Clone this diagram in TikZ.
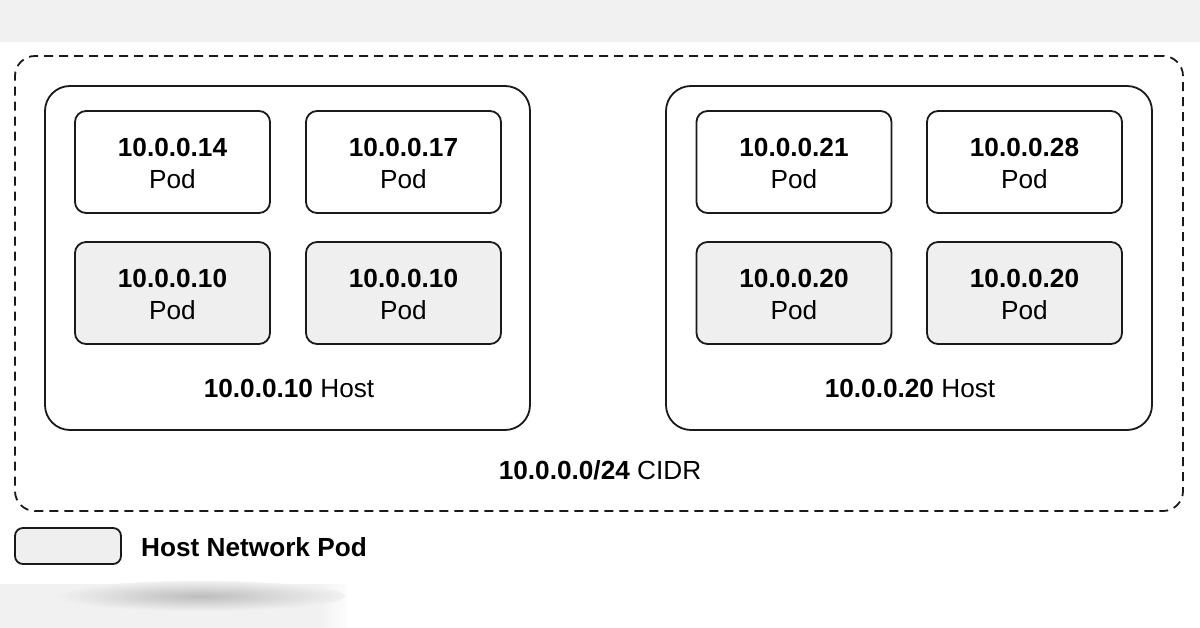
\documentclass[tikz,border=0pt]{standalone}
\usepackage{fontspec}
\setmainfont{Liberation Sans}
\definecolor{band}{HTML}{F1F1F1}
\definecolor{podfill}{HTML}{EFEFEF}
\definecolor{shade}{HTML}{BDBDBD}
\definecolor{edge}{HTML}{1A1A1A}
\begin{document}
\begin{tikzpicture}[x=1pt,y=-1pt,
  podtext/.style={inner sep=0pt, align=center, yshift=-1.5pt, font=\fontsize{26.2}{32}\selectfont},
  pod/.style={draw=edge, line width=1.8pt, rounded corners=11pt, minimum width=195pt, minimum height=102pt, inner sep=0pt, label={[podtext]center:#1}},
  hostpod/.style={pod=#1, fill=podfill},
  hostbox/.style={draw=edge, line width=1.8pt, rounded corners=25pt, minimum height=344pt, inner sep=0pt},
  cidrbox/.style={draw=edge, line width=1.8pt, dash pattern=on 9pt off 6pt, rounded corners=20pt, minimum width=1168pt, minimum height=455pt, inner sep=0pt},
  lbl/.style={inner sep=0pt, font=\fontsize{26.2}{30}\selectfont}]
\useasboundingbox (0,0) rectangle (1200,628);
\fill[white] (0,0) rectangle (1200,628);
\fill[band] (0,0) rectangle (1200,42);
% bottom blurred shadow
\fill[band] (0,584) rectangle (320,628);
\shade[left color=band, right color=white] (320,584) rectangle (350,628);
\shade[inner color=shade, outer color=band] (200,596) ellipse [x radius=145pt, y radius=15pt];

\node[cidrbox] (cidr) at (599,283.5) {};
\node[hostbox, minimum width=485pt] (hostL) at (287.5,258) {};
\node[hostbox, minimum width=486pt] (hostR) at (909,258) {};

\node[pod={\textbf{10.0.0.14}\\Pod}] (p14) at (172.5,162) {};
\node[pod={\textbf{10.0.0.17}\\Pod}] (p17) at (403.5,162) {};
\node[hostpod={\textbf{10.0.0.10}\\Pod}] (p10a) at (172.5,293) {};
\node[hostpod={\textbf{10.0.0.10}\\Pod}] (p10b) at (403.5,293) {};

\node[pod={\textbf{10.0.0.21}\\Pod}] (p21) at (794,162) {};
\node[pod={\textbf{10.0.0.28}\\Pod}] (p28) at (1024.5,162) {};
\node[hostpod={\textbf{10.0.0.20}\\Pod}] (p20a) at (794,293) {};
\node[hostpod={\textbf{10.0.0.20}\\Pod}] (p20b) at (1024.5,293) {};

\node[lbl] (hlL) at (289,388) {\textbf{10.0.0.10} Host};
\node[lbl] (hlR) at (910,388) {\textbf{10.0.0.20} Host};
\node[lbl] (cl) at (600,470) {\textbf{10.0.0.0/24} CIDR};

\node[draw=edge, line width=1.8pt, fill=podfill, rounded corners=8pt, minimum width=106pt, minimum height=36pt, inner sep=0pt] (legbox) at (68,546) {};
\node[lbl, anchor=west] (legtxt) at (141,547) {\textbf{Host Network Pod}};
\end{tikzpicture}
\end{document}
